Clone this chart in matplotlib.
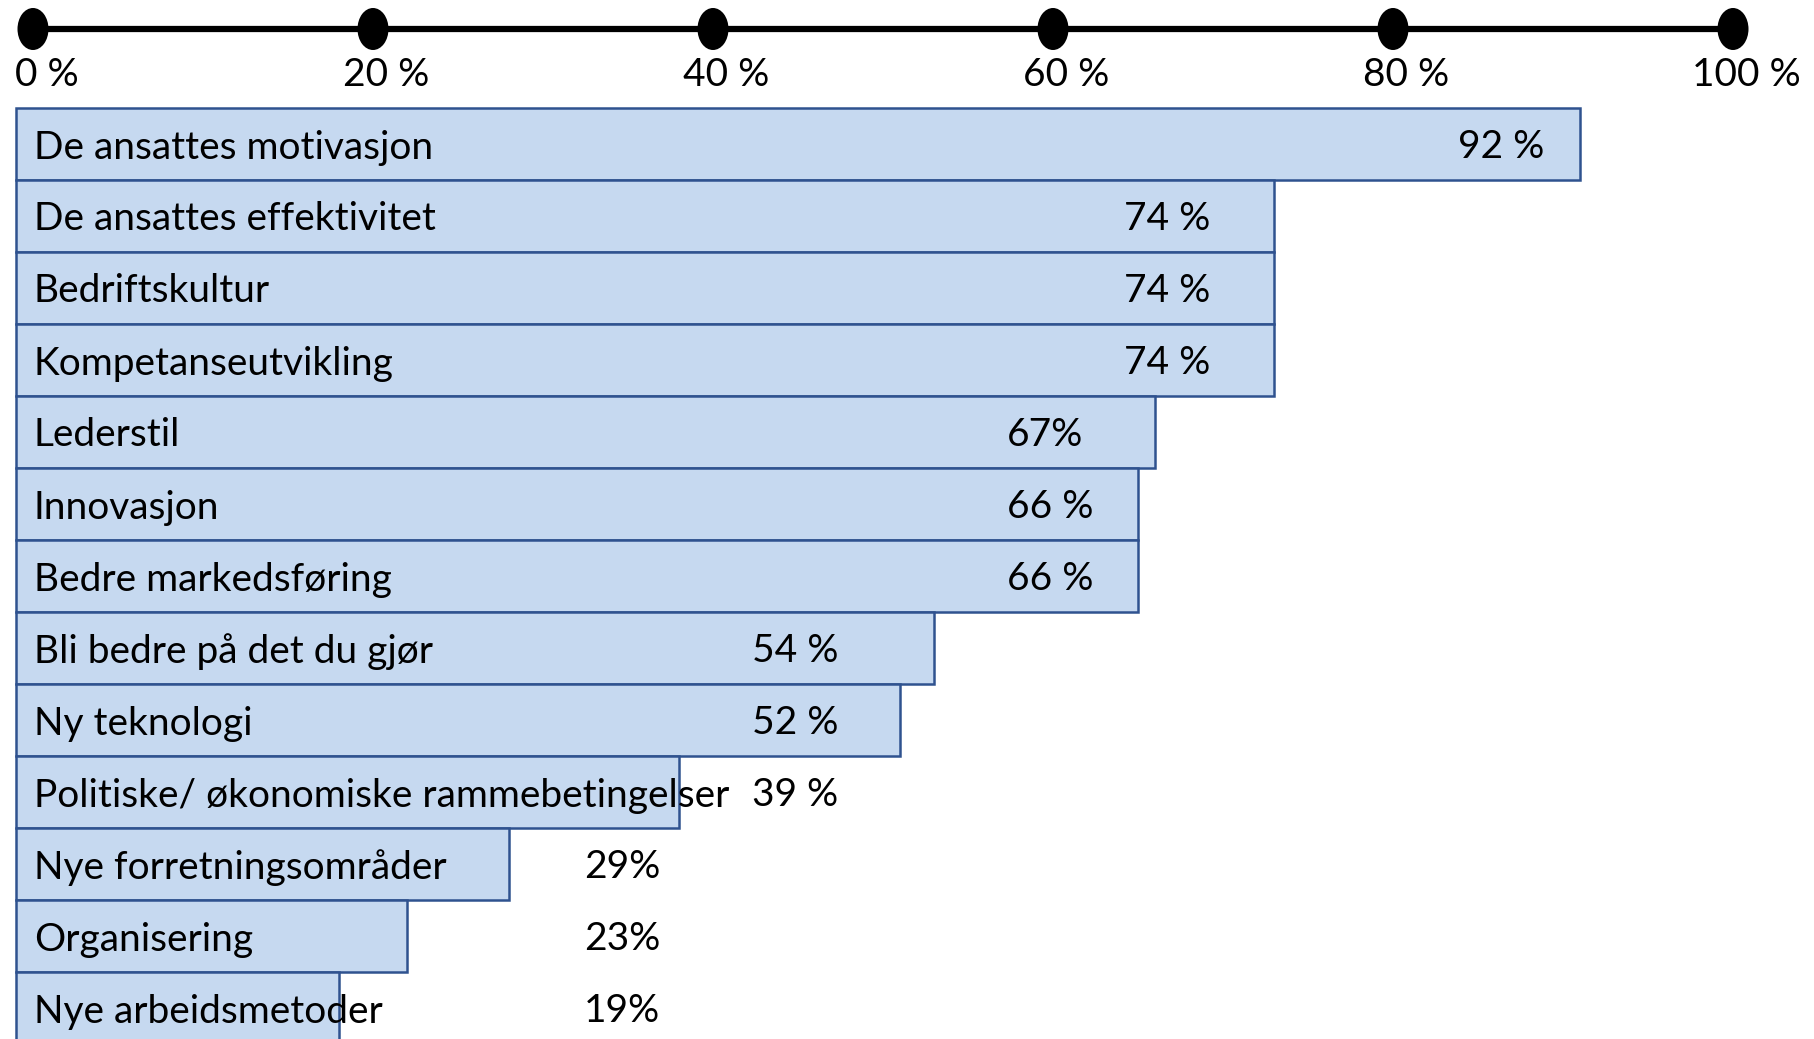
import matplotlib
matplotlib.use("Agg")
import matplotlib.pyplot as plt
from matplotlib.patches import Ellipse

# ---- data ----
categories = [
    "De ansattes motivasjon",
    "De ansattes effektivitet",
    "Bedriftskultur",
    "Kompetanseutvikling",
    "Lederstil",
    "Innovasjon",
    "Bedre markedsføring",
    "Bli bedre på det du gjør",
    "Ny teknologi",
    "Politiske/ økonomiske rammebetingelser",
    "Nye forretningsområder",
    "Organisering",
    "Nye arbeidsmetoder",
]
values = [92, 74, 74, 74, 67, 66, 66, 54, 52, 39, 29, 23, 19]
value_sep = [" ", " ", " ", " ", "", " ", " ", " ", " ", " ", "", "", ""]
ticks = [0, 20, 40, 60, 80, 100]
tick_labels = ["0 %", "20 %", "40 %", "60 %", "80 %", "100 %"]

# ---- layout (label anchor in % units, per row) ----
label_x = [84.8, 65.2, 65.2, 65.2, 58.3, 58.3, 58.3, 43.3, 43.3, 43.3, 33.4, 33.4, 33.4]

W, H, DPI = 1814, 1039, 100
px_per_pct = 17.0
x0_px = 16
row_px = 72.0
row0_px = 144

fig = plt.figure(figsize=(W / DPI, H / DPI), dpi=DPI)
ax = fig.add_axes([0, 0, 1, 1])
ax.set_xlim(-x0_px / px_per_pct, (W - x0_px) / px_per_pct)
ax.set_ylim((H - row0_px) / row_px, -row0_px / row_px)
ax.axis("off")

FONT = "Lato"
FS = 28
fill = "#C6D9F0"
edge = "#2F528F"

rows = list(range(len(categories)))
ax.barh(rows, values, height=1.0, left=0, color=fill, edgecolor=edge,
        linewidth=1.8, zorder=2, clip_on=True)

for i, (cat, v, sep, lx) in enumerate(zip(categories, values, value_sep, label_x)):
    ax.text(1.05, i, cat, ha="left", va="center_baseline", fontsize=FS,
            family=FONT, color="black", zorder=4)
    ax.text(lx, i, f"{v}{sep}%", ha="left", va="center_baseline", fontsize=FS,
            family=FONT, color="black", zorder=4)

# top scale line with dots (scale drawn slightly offset from the bars, as in the reference)
scale_off = 1.0
line_y = (29 - row0_px) / row_px
ax.plot([ticks[0] + scale_off, ticks[-1] + scale_off], [line_y, line_y], color="black",
        lw=4.5, solid_capstyle="butt", zorder=3, clip_on=False)
dot_w = 31 / px_per_pct
dot_h = 42 / row_px
for t, lab in zip(ticks, tick_labels):
    ax.add_patch(Ellipse((t + scale_off, line_y), dot_w, dot_h, facecolor="black",
                         edgecolor="none", zorder=4, clip_on=False))
    ax.text(t + scale_off + 0.8, (72 - row0_px) / row_px, lab, ha="center",
            va="center_baseline", fontsize=FS, family=FONT, color="black")

fig.savefig("out.png", dpi=DPI, facecolor="white")
